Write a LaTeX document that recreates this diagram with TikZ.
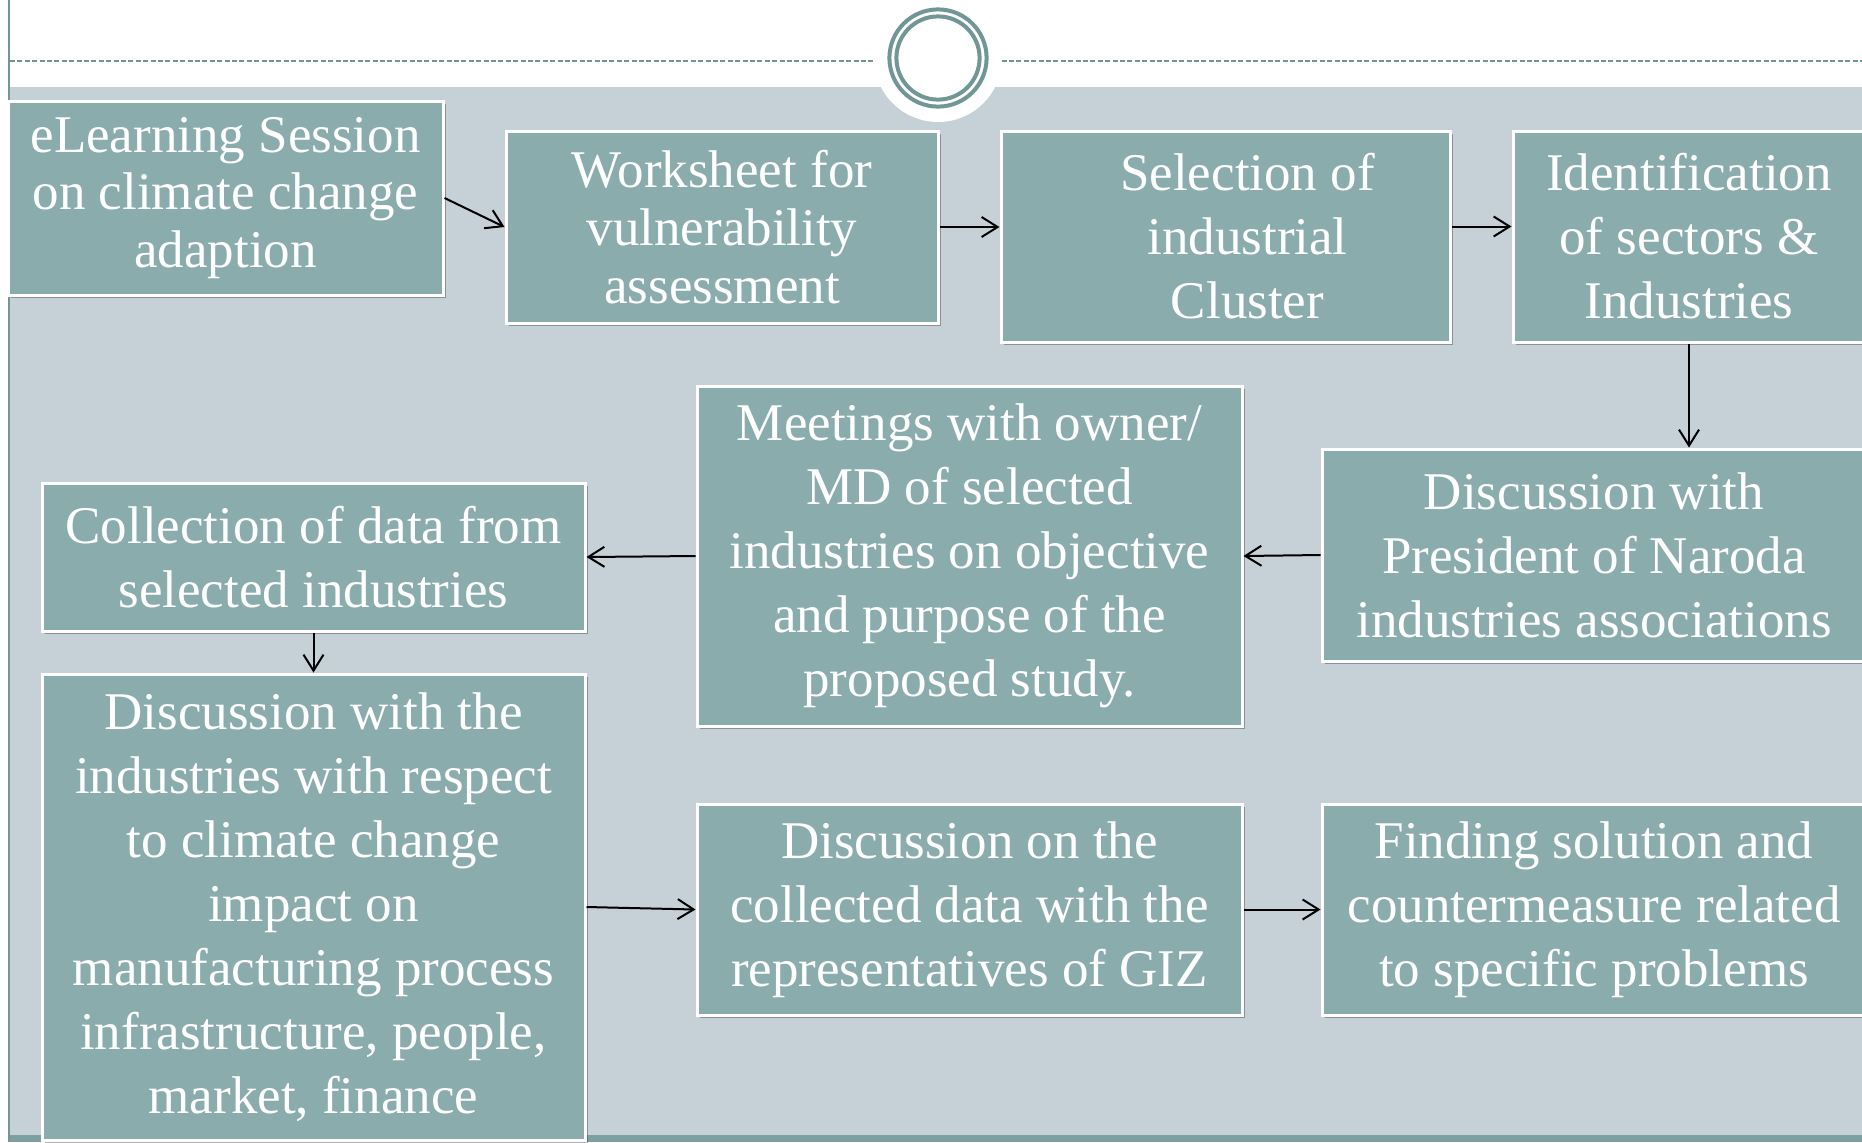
\documentclass[tikz,border=0pt]{standalone}
\usepackage{fontspec}
\setmainfont{Liberation Serif}
\usetikzlibrary{arrows.meta, positioning, shadows}
\definecolor{sage_teal}{RGB}{139, 172, 173}
\definecolor{mist_gray}{RGB}{197, 209, 214}
\definecolor{ring_teal}{RGB}{112, 150, 150}
\definecolor{strip_teal}{RGB}{124, 160, 161}

\begin{document}
\begin{tikzpicture}[
    x=0.5pt, y=-0.5pt,
    % Process box style
    stepbox/.style 2 args={
        rectangle,
        draw=white,
        line width=1.5pt,
        fill=sage_teal,
        text=white,
        align=center,
        inner sep=0pt,
        minimum width=#1,
        minimum height=#2,
        font=\fontsize{26.5}{32}\selectfont,
        drop shadow={shadow xshift=1.5pt, shadow yshift=-1.5pt, opacity=0.3, fill=black}
    },
    % Tighter line spacing for the first two boxes
    tight/.style={font=\fontsize{26.5}{28.8}\selectfont},
    % Connection style
    connect/.style={
        -{Straight Barb[length=8pt, width=10pt]},
        line width=1pt,
        black
    }
]
\useasboundingbox (0,0) rectangle (1862,1142);
\clip (0,0) rectangle (1862,1142);

% Slide background
\fill[mist_gray] (10,87) rectangle (1862,1135);
\fill[strip_teal] (10,1135) rectangle (1862,1142);
\draw[ring_teal, line width=1pt] (9,0) -- (9,1142);
\draw[ring_teal, line width=0.75pt, dash pattern=on 2.5pt off 1.2pt] (10,61) -- (1862,61);

% Title ornament
\fill[white] (938,58) circle[radius=32pt];
\draw[ring_teal, line width=2pt] (938,58) circle[radius=24.3pt];
\draw[ring_teal, line width=2pt] (938,58) circle[radius=20.8pt];

% First row
\node[stepbox={217.5pt}{97pt}, tight] (elearn) at (225.5,198) {eLearning Session\\on climate change\\adaption};
\node[stepbox={216pt}{96pt}, tight] (wsheet) at (722,227) {Worksheet for\\vulnerability\\assessment};
\node[stepbox={224.5pt}{105.5pt}] (select) at (1225.5,236.5) {\hspace*{22pt}Selection of\\\hspace*{22pt}industrial\\\hspace*{22pt}Cluster};
\node[stepbox={176pt}{105.5pt}] (ident) at (1689,236.5) {Identification\\of sectors \&\\Industries};

% Second row
\node[stepbox={272pt}{106pt}] (pres) at (1594,555) {Discussion with\\President of Naroda\\industries associations};
\node[stepbox={272.5pt}{170pt}] (meet) at (969.5,556) {Meetings with owner/\\MD of selected\\industries on objective\\and purpose of the\\proposed study.};
\node[stepbox={271.5pt}{74pt}] (collect) at (313.5,557) {Collection of data from\\selected industries};

% Third row
\node[stepbox={271.5pt}{233pt}] (discind) at (313.5,907) {Discussion with the\\industries with respect\\to climate change\\impact on\\manufacturing process\\infrastructure, people,\\market, finance};
\node[stepbox={272.5pt}{105.5pt}] (discgiz) at (969.5,909.5) {Discussion on the\\collected data with the\\representatives of GIZ};
\node[stepbox={272pt}{105.5pt}] (finding) at (1594,909.5) {Finding solution and\\countermeasure related\\to specific problems};

% Flow
\draw[connect] (elearn.east) -- (wsheet.west);
\draw[connect] (wsheet.east) -- (wsheet.east -| select.west);
\draw[connect] ([yshift=5pt]select.east) -- ([yshift=5pt]ident.west);
\draw[connect] (ident.south) -- (ident.south |- pres.north);
\draw[connect] (pres.west) -- (meet.east);
\draw[connect] (meet.west) -- (collect.east);
\draw[connect] (collect.south) -- (discind.north);
\draw[connect] (discind.east) -- (discgiz.west);
\draw[connect] (discgiz.east) -- (finding.west);

\end{tikzpicture}
\end{document}
